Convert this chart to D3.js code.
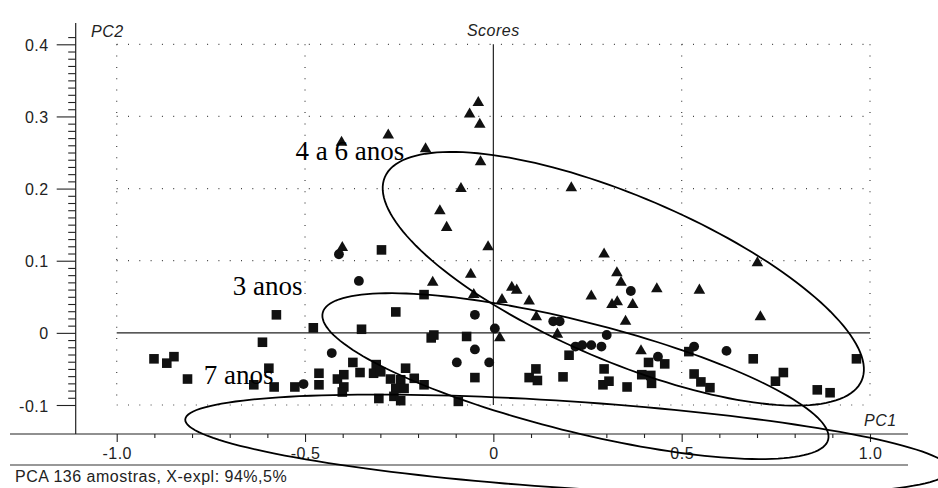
<!DOCTYPE html>
<html>
<head>
<meta charset="utf-8">
<script src="https://cdn.jsdelivr.net/npm/d3@7"></script>
<style>
  body { margin: 0; background: #fff; }
  svg { display: block; }
</style>
</head>
<body>
<div id="chart"></div>
<script>
// PCA scores (PC1, PC2)
var anos4a6 = [
  [-0.040, 0.319], [-0.063, 0.303], [-0.036, 0.289], [-0.279, 0.274], [-0.403, 0.264],
  [-0.180, 0.255], [-0.034, 0.237], [-0.086, 0.200], [0.207, 0.201], [-0.142, 0.169],
  [-0.124, 0.146], [-0.401, 0.118], [-0.014, 0.119], [-0.161, 0.070], [-0.060, 0.081],
  [-0.052, 0.053], [0.023, 0.046], [0.049, 0.063], [0.062, 0.059], [0.095, 0.044],
  [0.114, 0.022], [0.170, -0.002], [0.017, -0.007], [0.294, 0.109], [0.328, 0.083],
  [0.339, 0.070], [0.260, 0.051], [0.315, 0.039], [0.329, 0.043], [0.370, 0.039],
  [0.434, 0.061], [0.351, 0.016], [0.547, 0.059], [0.701, 0.097], [0.709, 0.022],
  [0.392, -0.025]
];
var anos3 = [
  [-0.410, 0.109], [-0.357, 0.072], [-0.429, -0.028], [-0.504, -0.071], [-0.049, 0.025],
  [-0.049, -0.023], [-0.097, -0.041], [-0.011, -0.041], [0.004, 0.006], [0.159, 0.016],
  [0.176, 0.016], [0.218, -0.019], [0.236, -0.017], [0.260, -0.017], [0.287, -0.019],
  [0.301, -0.003], [0.365, 0.058], [0.437, -0.033], [0.533, -0.019], [0.619, -0.025]
];
var anos7 = [
  [-0.901, -0.036], [-0.867, -0.042], [-0.848, -0.033], [-0.812, -0.064], [-0.636, -0.072],
  [-0.613, -0.013], [-0.596, -0.049], [-0.582, -0.075], [-0.576, 0.025], [-0.527, -0.075],
  [-0.478, 0.007], [-0.463, -0.056], [-0.463, -0.072], [-0.414, -0.064], [-0.397, -0.058],
  [-0.397, -0.075], [-0.401, -0.082], [-0.373, -0.041], [-0.354, -0.055], [-0.350, 0.005],
  [-0.311, -0.044], [-0.318, -0.056], [-0.299, -0.054], [-0.304, -0.091], [-0.297, 0.115],
  [-0.273, -0.064], [-0.246, -0.065], [-0.259, -0.077], [-0.237, -0.077], [-0.264, -0.088],
  [-0.246, -0.094], [-0.233, -0.049], [-0.259, 0.029], [-0.210, -0.063], [-0.184, -0.072],
  [-0.184, 0.053], [-0.165, -0.007], [-0.158, -0.003], [-0.071, -0.005], [-0.049, -0.062],
  [-0.093, -0.095], [0.095, -0.062], [0.113, -0.050], [0.117, -0.066], [0.185, -0.061],
  [0.201, -0.031], [0.294, -0.050], [0.291, -0.072], [0.307, -0.067], [0.355, -0.075],
  [0.412, -0.041], [0.455, -0.043], [0.394, -0.058], [0.418, -0.059], [0.420, -0.070],
  [0.519, -0.026], [0.533, -0.057], [0.551, -0.068], [0.575, -0.076], [0.690, -0.036],
  [0.749, -0.067], [0.770, -0.055], [0.860, -0.079], [0.894, -0.083], [0.964, -0.036]
];

// group ellipses: centre and two conjugate half-diameters, in PC units
var ellipseNames = ['4 a 6 anos', '3 anos', '7 anos'];
var ellipseCentres = [[0.345, 0.075], [0.218, -0.060], [0.197, -0.155]];
var ellipseU = [[0.633, -0.141], [0.671, -0.088], [1.015, -0.035]];
var ellipseV = [[-0.086, -0.105], [-0.036, -0.074], [-0.008, -0.060]];

// hand-written labels
var labelTexts = ['4 a 6 anos', '3 anos', '7 anos'];
var labelPos = [[-0.525, 0.240], [-0.692, 0.053], [-0.769, -0.071]];

var xMajor = [-1.0, -0.5, 0, 0.5, 1.0];
var xMajorLabels = ['-1.0', '-0.5', '0', '0.5', '1.0'];
var yMajor = [0.4, 0.3, 0.2, 0.1, 0, -0.1];
var yMajorLabels = ['0.4', '0.3', '0.2', '0.1', '0', '-0.1'];

var width = 938, height = 488;
var sans = 'Arial, "Liberation Sans", sans-serif';

var svg = d3.select('#chart').append('svg')
            .attr('width', width).attr('height', height);
svg.append('rect').attr('width', width).attr('height', height).attr('fill', '#fff');

var x = d3.scaleLinear().domain([-1, 1]).range([116.7, 870]);
var y = d3.scaleLinear().domain([-0.1, 0.4]).range([405, 44.3]);

var axisX = 75.7, axisY = 434;

// dotted grid
var grid = svg.append('g').attr('stroke', '#444').attr('stroke-width', 1.2)
              .attr('stroke-dasharray', '1,10.3');
grid.selectAll('.gv').data(xMajor.filter(function(d){ return d !== 0; }))
    .enter().append('line')
    .attr('x1', function(d){ return x(d); }).attr('x2', function(d){ return x(d); })
    .attr('y1', y(0.4)).attr('y2', y(-0.1));
grid.selectAll('.gh').data(yMajor.filter(function(d){ return d !== 0; }))
    .enter().append('line')
    .attr('y1', function(d){ return y(d); }).attr('y2', function(d){ return y(d); })
    .attr('x1', x(-1)).attr('x2', x(1));

// zero lines
svg.append('line').attr('x1', x(-1)).attr('x2', x(1)).attr('y1', y(0)).attr('y2', y(0))
   .attr('stroke', '#222').attr('stroke-width', 1.2);
svg.append('line').attr('x1', x(0)).attr('x2', x(0)).attr('y1', y(0.4)).attr('y2', y(-0.1))
   .attr('stroke', '#222').attr('stroke-width', 1.2);

// frame lines
svg.append('line').attr('x1', axisX).attr('x2', axisX).attr('y1', 23).attr('y2', axisY)
   .attr('stroke', '#222').attr('stroke-width', 1.2);
svg.append('line').attr('x1', 10).attr('x2', 908).attr('y1', axisY).attr('y2', axisY)
   .attr('stroke', '#222').attr('stroke-width', 1.2);
svg.append('line').attr('x1', 10).attr('x2', 908).attr('y1', 465).attr('y2', 465)
   .attr('stroke', '#333').attr('stroke-width', 1.1);

// x axis
var xMinor = d3.range(-10, 11).map(function(i){ return i / 10; })
               .filter(function(d){ return Math.abs(d * 2 - Math.round(d * 2)) > 1e-6; });
var gxMinor = svg.append('g').attr('transform', 'translate(0,' + axisY + ')')
                 .call(d3.axisBottom(x).tickValues(xMinor).tickSize(4).tickFormat(''));
var gx = svg.append('g').attr('transform', 'translate(0,' + axisY + ')')
            .call(d3.axisBottom(x).tickValues(xMajor).tickSize(8).tickPadding(6)
                    .tickFormat(function(d, i){ return xMajorLabels[i]; }));

// y axis
var yMinor = d3.range(-10, 42).map(function(i){ return i / 100; })
               .filter(function(d){ return Math.abs(d * 10 - Math.round(d * 10)) > 1e-6; });
var gyMinor = svg.append('g').attr('transform', 'translate(' + axisX + ',0)')
                 .call(d3.axisLeft(y).tickValues(yMinor).tickSize(7.5).tickFormat(''));
var gy = svg.append('g').attr('transform', 'translate(' + axisX + ',0)')
            .call(d3.axisLeft(y).tickValues(yMajor).tickSize(19).tickPadding(8)
                    .tickFormat(function(d, i){ return yMajorLabels[i]; }));

[gxMinor, gx, gyMinor, gy].forEach(function(g){
  g.select('.domain').remove();
  g.selectAll('line').attr('stroke', '#222').attr('stroke-width', 1.1);
  g.selectAll('text').attr('font-family', sans).attr('font-size', '16px')
   .attr('letter-spacing', '0.5px').attr('fill', '#222');
});
gy.selectAll('text').attr('dy', '0.38em');

// points
var symbols = [
  { data: anos4a6, type: d3.symbolTriangle, size: 58 },
  { data: anos3, type: d3.symbolCircle, size: 76 },
  { data: anos7, type: d3.symbolSquare, size: 92 }
];
symbols.forEach(function(s){
  svg.append('g').selectAll('path').data(s.data).enter().append('path')
     .attr('d', d3.symbol().type(s.type).size(s.size))
     .attr('transform', function(d){ return 'translate(' + x(d[0]) + ',' + y(d[1]) + ')'; })
     .attr('fill', '#111');
});

// ellipses
var ts = d3.range(0, 160).map(function(i){ return i / 160 * Math.PI * 2; });
var line = d3.line().curve(d3.curveLinearClosed);
ellipseNames.forEach(function(name, k){
  var c = ellipseCentres[k], u = ellipseU[k], v = ellipseV[k];
  var pts = ts.map(function(t){
    var px = c[0] + Math.cos(t) * u[0] + Math.sin(t) * v[0];
    var py = c[1] + Math.cos(t) * u[1] + Math.sin(t) * v[1];
    return [x(px), y(py)];
  });
  svg.append('path').attr('d', line(pts)).attr('fill', 'none')
     .attr('stroke', '#000').attr('stroke-width', 1.8);
});

// labels
svg.selectAll('.lab').data(labelTexts).enter().append('text')
   .attr('x', function(d, i){ return x(labelPos[i][0]); })
   .attr('y', function(d, i){ return y(labelPos[i][1]); })
   .attr('font-family', '"Liberation Serif", "Times New Roman", serif')
   .attr('font-size', '27px').attr('fill', '#000')
   .text(function(d){ return d; });

function sansText(txt, tx, ty, italic, anchor){
  svg.append('text').attr('x', tx).attr('y', ty)
     .attr('font-family', sans).attr('font-size', '16px').attr('letter-spacing', '0.5px')
     .attr('font-style', italic ? 'italic' : 'normal')
     .attr('text-anchor', anchor || 'start').attr('fill', '#222')
     .text(txt);
}
sansText('PC2', 91, 37, true);
sansText('Scores', x(0), 36, true, 'middle');
sansText('PC1', 864, 426, true);
sansText('PCA 136 amostras, X-expl: 94%,5%', 15, 482, false);
</script>
</body>
</html>
